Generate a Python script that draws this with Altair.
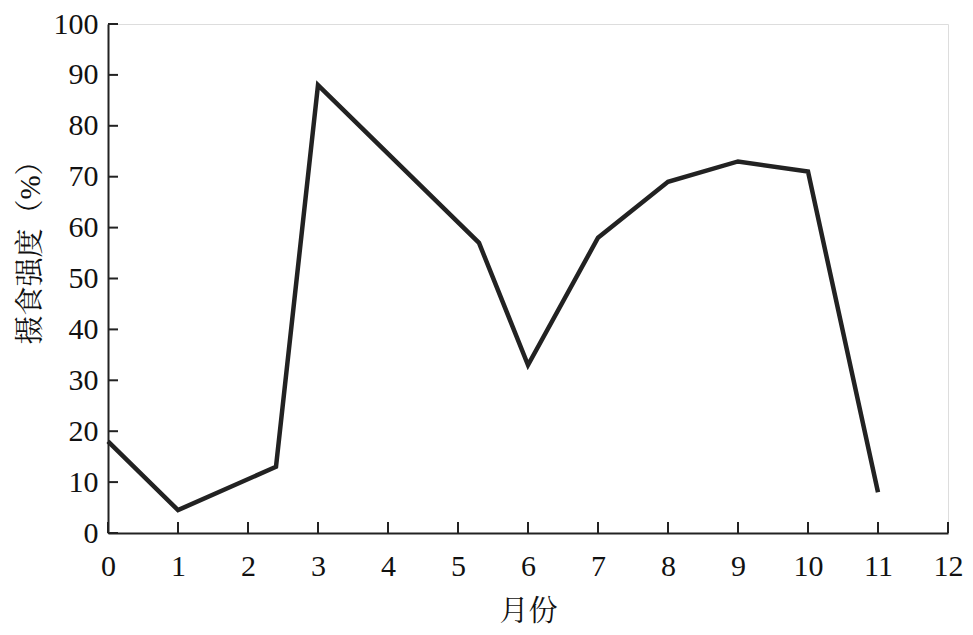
import altair as alt
import pandas as pd

months = [0, 1, 2.4, 3, 5.3, 6, 7, 8, 9, 10, 11]
intensity = [18, 4.5, 13, 88, 57, 33, 58, 69, 73, 71, 8]
x_ticks = list(range(0, 13))
y_ticks = list(range(0, 101, 10))

FONT = "Liberation Serif, Noto Serif CJK SC, Noto Sans CJK SC"

df = pd.DataFrame({"m": months, "v": intensity})
xt = pd.DataFrame({"t": x_ticks})
yt = pd.DataFrame({"t": y_ticks})

W, H = 840, 509
xscale = alt.Scale(domain=[0, 12], nice=False, zero=False)
yscale = alt.Scale(domain=[0, 100], nice=False)

line = alt.Chart(df).mark_line(color="#222222", strokeWidth=4.5, strokeJoin="miter", clip=False).encode(
    x=alt.X("m:Q", scale=xscale,
            axis=alt.Axis(values=x_ticks, format="d", title="月份", tickSize=0, domainWidth=2, domainColor="#222222",
                          labelFontSize=30, labelFont=FONT, labelColor="#111111", labelPadding=18,
                          titleFont=FONT, titleFontSize=29, titleFontWeight="normal", titleColor="#111111",
                          titlePadding=16, grid=False, labelFlush=False)),
    y=alt.Y("v:Q", scale=yscale,
            axis=alt.Axis(values=y_ticks, format="d", title="摄食强度（%）", tickSize=0, domainWidth=2, domainColor="#222222",
                          labelFontSize=30, labelFont=FONT, labelColor="#111111", labelPadding=10,
                          titleFont=FONT, titleFontSize=29, titleFontWeight="normal", titleColor="#111111",
                          titlePadding=8, titleY=221, grid=False, labelFlush=False)),
)

xtick = alt.Chart(xt).mark_rule(color="#222222", strokeWidth=2).encode(
    x=alt.X("t:Q", scale=xscale),
    y=alt.value(H), y2=alt.value(H - 11),
)
ytick = alt.Chart(yt).mark_rule(color="#222222", strokeWidth=2).encode(
    y=alt.Y("t:Q", scale=yscale),
    x=alt.value(0), x2=alt.value(10),
)

chart = alt.layer(line, xtick, ytick).properties(
    width=W, height=H,
    autosize=alt.AutoSizeParams(type="none"),
    padding={"left": 100, "top": 16, "right": 17, "bottom": 102},
).configure_view(stroke=None).configure(background="white")

chart.save("out.html", embed_options={"renderer": "svg", "actions": False})
